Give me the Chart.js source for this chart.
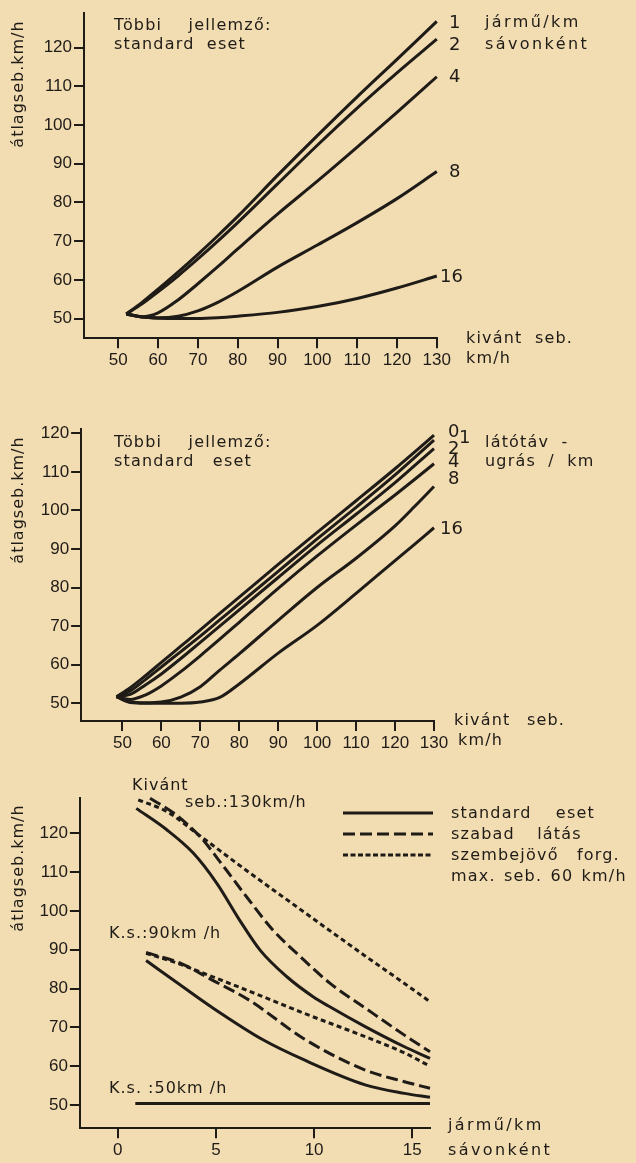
<!DOCTYPE html>
<html lang="hu">
<head>
<meta charset="utf-8">
<script src="https://cdn.jsdelivr.net/npm/chart.js@4.4.1/dist/chart.umd.min.js"></script>
<style>
  html, body { margin: 0; padding: 0; }
  body {
    width: 636px; height: 1163px; position: relative; overflow: hidden;
    background: #f2dcb2; color: #1f1b17;
    font-family: "DejaVu Sans", "Liberation Sans", sans-serif;
  }
  canvas { position: absolute; left: 0; }
  .t {
    position: absolute; white-space: nowrap; line-height: 1;
    font-size: 16px; letter-spacing: 1.2px; word-spacing: 6px;
    transform: translateY(-50%);
  }
  .n { font-size: 18px; letter-spacing: 0; }
  .w { letter-spacing: 2.4px; }
  .yt {
    position: absolute; white-space: nowrap; line-height: 1;
    font-size: 16px; letter-spacing: 1px;
    transform: translate(-50%, -50%) rotate(-90deg);
  }
</style>
</head>
<body>
<canvas id="c1" width="636" height="380" style="top:0px"></canvas>
<canvas id="c2" width="636" height="380" style="top:380px"></canvas>
<canvas id="c3" width="636" height="403" style="top:760px"></canvas>

<!-- felső ábra -->
<div class="yt" style="left:18px; top:84px">átlagseb.km/h</div>
<div class="t" style="left:114px; top:25px; word-spacing:20px">Többi jellemző:</div>
<div class="t" style="left:114px; top:44px">standard eset</div>
<div class="t n" style="left:449px; top:22px">1</div>
<div class="t n" style="left:449px; top:44px">2</div>
<div class="t n" style="left:449px; top:76px">4</div>
<div class="t n" style="left:449px; top:171px">8</div>
<div class="t n" style="left:440px; top:276px">16</div>
<div class="t w" style="left:485px; top:22px">jármű/km</div>
<div class="t w" style="left:485px; top:44px">sávonként</div>
<div class="t" style="left:466px; top:338px">kivánt seb.</div>
<div class="t" style="left:466px; top:358px">km/h</div>

<!-- középső ábra -->
<div class="yt" style="left:18px; top:500px">átlagseb.km/h</div>
<div class="t" style="left:114px; top:442px; word-spacing:20px">Többi jellemző:</div>
<div class="t" style="left:114px; top:461px; word-spacing:12px">standard eset</div>
<div class="t n" style="left:448px; top:431px">0</div>
<div class="t n" style="left:459px; top:437px">1</div>
<div class="t n" style="left:448px; top:448px">2</div>
<div class="t n" style="left:448px; top:461px">4</div>
<div class="t n" style="left:448px; top:478px">8</div>
<div class="t n" style="left:440px; top:528px">16</div>
<div class="t" style="left:485px; top:442px">látótáv -</div>
<div class="t" style="left:485px; top:461px">ugrás / km</div>
<div class="t" style="left:454px; top:720px; word-spacing:10px">kivánt seb.</div>
<div class="t" style="left:458px; top:740px">km/h</div>

<!-- alsó ábra -->
<div class="yt" style="left:18px; top:868px">átlagseb.km/h</div>
<div class="t" style="left:132px; top:785px; letter-spacing:1px">Kivánt</div>
<div class="t" style="left:185px; top:802px; letter-spacing:1px; word-spacing:0">seb.:130km/h</div>
<div class="t" style="left:109px; top:933px; letter-spacing:1px; word-spacing:0">K.s.:90km /h</div>
<div class="t" style="left:109px; top:1088px; letter-spacing:1px; word-spacing:0">K.s. :50km /h</div>
<div class="t" style="left:451px; top:813px; word-spacing:18px">standard eset</div>
<div class="t" style="left:451px; top:834px; word-spacing:16px">szabad látás</div>
<div class="t" style="left:451px; top:855px; word-spacing:12px">szembejövő forg.</div>
<div class="t" style="left:451px; top:876px; word-spacing:2px">max. seb. 60 km/h</div>
<div class="t w" style="left:448px; top:1125px">jármű/km</div>
<div class="t w" style="left:448px; top:1150px">sávonként</div>

<script>
const INK = '#1f1b17';

// felső ábra: kivánt seb. -> átlagseb., jármű/km sávonként
const kivant1 = [52, 56, 60, 65, 70, 75, 80, 90, 100, 110, 120, 130];
const atlag1_j1 = [51.2, 54.2, 57.6, 62, 66.6, 71.4, 76.4, 87, 97.3, 107.3, 117, 126.8];
const atlag1_j2 = [51.2, 53.8, 56.9, 61, 65.4, 70, 74.8, 84.8, 94.8, 104.4, 113.5, 122.2];
const atlag1_j4 = [51.2, 50.5, 51.5, 54.8, 59, 63.4, 68, 77, 85.5, 94.3, 103.3, 112.5];
const atlag1_j8 = [51.2, 50.4, 50.2, 50.6, 52, 54.2, 57, 63.3, 69, 74.8, 81, 88];
const atlag1_j16 = [51.2, 50.4, 50.1, 50, 50, 50.2, 50.6, 51.6, 53.1, 55.2, 57.9, 61];
const xTicks1 = [50, 60, 70, 80, 90, 100, 110, 120, 130];
const yTicks1 = [50, 60, 70, 80, 90, 100, 110, 120];

// középső ábra: látótávugrás / km
const kivant2 = [48.5, 52, 56, 60, 65, 70, 75, 80, 90, 100, 110, 120, 125, 130];
const atlag2_u0 = [51.7, 54, 57.2, 60.6, 64.8, 69, 73.3, 77.5, 86, 94.3, 102.5, 110.8, 115.1, 119.5];
const atlag2_u1 = [51.7, 53.2, 56.2, 59.4, 63.4, 67.4, 71.6, 75.8, 84.2, 92.6, 100.8, 109.2, 113.7, 118.2];
const atlag2_u2 = [51.7, 52.3, 54.8, 57.6, 61.6, 65.8, 70, 74.2, 82.6, 91, 99, 107.2, 111.6, 116];
const atlag2_u4 = [51.7, 51, 52.2, 54.5, 58.2, 62.3, 66.6, 71, 79.8, 88.2, 96.2, 104, 108, 112.1];
const atlag2_u8 = [51.7, 50.3, 50.1, 50.3, 51.6, 54.3, 58.6, 62.8, 71.5, 80, 87.6, 96, 101, 106.2];
const atlag2_u16 = [51.7, 50.2, 50, 50, 50, 50.3, 51.5, 55, 63, 70.2, 78.5, 87, 91.2, 95.5];
const xTicks2 = [50, 60, 70, 80, 90, 100, 110, 120, 130];
const yTicks2 = [50, 60, 70, 80, 90, 100, 110, 120];

// alsó ábra: jármű/km sávonként -> átlagseb. ([jármű/km, km/h])
const std130 = [[0.95, 126.4], [2.5, 120.9], [3.85, 114.9], [5.05, 107.1], [6.2, 97.7], [7.25, 89.9], [8.6, 83.1], [9.95, 77.9], [10.8, 75.3], [12.6, 70.2], [14.6, 65], [15.9, 62]];
const szabad130 = [[1.65, 129], [2.85, 125.2], [4.2, 119.1], [5.4, 111.4], [6.55, 103.7], [7.9, 95.1], [9.3, 88.2], [10.8, 81.4], [12.6, 75], [14.6, 68], [15.9, 63.7]];
const szembe130 = [[1.05, 128.6], [2.5, 125.6], [4.2, 119.3], [6.4, 111], [8.5, 103.3], [10.5, 96], [12.6, 88.4], [14.6, 81.3], [15.9, 76.6]];
const std90 = [[1.45, 87.2], [3.3, 80.5], [4.7, 75.5], [7.4, 66.8], [9.5, 61.6], [12.6, 55.2], [14.6, 53], [15.9, 52]];
const szabad90 = [[1.45, 89.3], [3.3, 86.3], [4.7, 82.5], [6.7, 77], [9.5, 67], [12.6, 59], [14.6, 56], [15.9, 54.3]];
const szembe90 = [[1.45, 89.1], [3, 86.6], [4.7, 83.3], [7.4, 77.9], [9.5, 73.6], [12.6, 67.6], [14.6, 63.4], [15.9, 60]];
const std50 = [[0.9, 50.4], [15.9, 50.4]];
const xTicks3 = [0, 5, 10, 15];
const yTicks3 = [50, 60, 70, 80, 90, 100, 110, 120];

const DASH = [12, 5];
const DOT = [5, 3.5];

function sor(xs, ys, dash) {
  return {
    data: xs.map((x, i) => ({ x: x, y: ys[i] })),
    borderColor: INK, borderWidth: 3, borderDash: dash || [],
    pointRadius: 0, cubicInterpolationMode: 'monotone', clip: false, fill: false
  };
}
function par(pts, dash) {
  return sor(pts.map(p => p[0]), pts.map(p => p[1]), dash);
}

function tengely(min, max, ticks, isY, size) {
  return {
    type: 'linear', min: min, max: max,
    afterBuildTicks: s => { s.ticks = ticks.map(v => ({ value: v })); },
    afterFit: s => { if (isY) s.width = size; else s.height = size; },
    grid: { display: true, drawOnChartArea: false, drawTicks: true, tickLength: 10, lineWidth: 2, color: INK },
    border: { display: true, width: 2, color: INK },
    ticks: { color: INK, padding: 2, font: { family: 'Liberation Sans', size: 17 } }
  };
}

function abra(id, datasets, sc, pad, extra) {
  new Chart(document.getElementById(id), {
    type: 'line',
    data: { datasets: datasets },
    options: {
      responsive: false, animation: false,
      layout: { padding: pad },
      plugins: { legend: { display: false }, tooltip: { enabled: false } },
      scales: {
        x: tengely(sc.xmin, sc.xmax, sc.xt, false, 34),
        y: tengely(sc.ymin, sc.ymax, sc.yt, true, 50)
      }
    },
    plugins: extra ? [extra] : []
  });
}

abra('c1', [
  sor(kivant1, atlag1_j1), sor(kivant1, atlag1_j2), sor(kivant1, atlag1_j4),
  sor(kivant1, atlag1_j8), sor(kivant1, atlag1_j16)
], { xmin: 41.4, xmax: 130, xt: xTicks1, ymin: 44.9, ymax: 128.9, yt: yTicks1 },
   { left: 34, right: 199.2, top: 13.3, bottom: 7.7 });

abra('c2', [
  sor(kivant2, atlag2_u0), sor(kivant2, atlag2_u1), sor(kivant2, atlag2_u2),
  sor(kivant2, atlag2_u4), sor(kivant2, atlag2_u8), sor(kivant2, atlag2_u16)
], { xmin: 39.4, xmax: 130, xt: xTicks2, ymin: 45.4, ymax: 121, yt: yTicks2 },
   { left: 31.1, right: 202, top: 49.4, bottom: 5 });

// jelmagyarázat vonalai
const jelek = {
  id: 'jelek',
  afterDraw(chart) {
    const ctx = chart.ctx;
    [[], DASH, [5, 2.5]].forEach((d, i) => {
      ctx.save();
      ctx.strokeStyle = INK; ctx.lineWidth = 3; ctx.setLineDash(d);
      ctx.beginPath();
      ctx.moveTo(343, 53 + i * 21); ctx.lineTo(433, 53 + i * 21);
      ctx.stroke();
      ctx.restore();
    });
  }
};

abra('c3', [
  par(std130), par(szabad130, DASH), par(szembe130, DOT),
  par(std90), par(szabad90, DASH), par(szembe90, DOT),
  par(std50)
], { xmin: -1.92, xmax: 15.9, xt: xTicks3, ymin: 44, ymax: 129, yt: yTicks3 },
   { left: 29.9, right: 206, top: 38.3, bottom: 0.7 }, jelek);
</script>
</body>
</html>
